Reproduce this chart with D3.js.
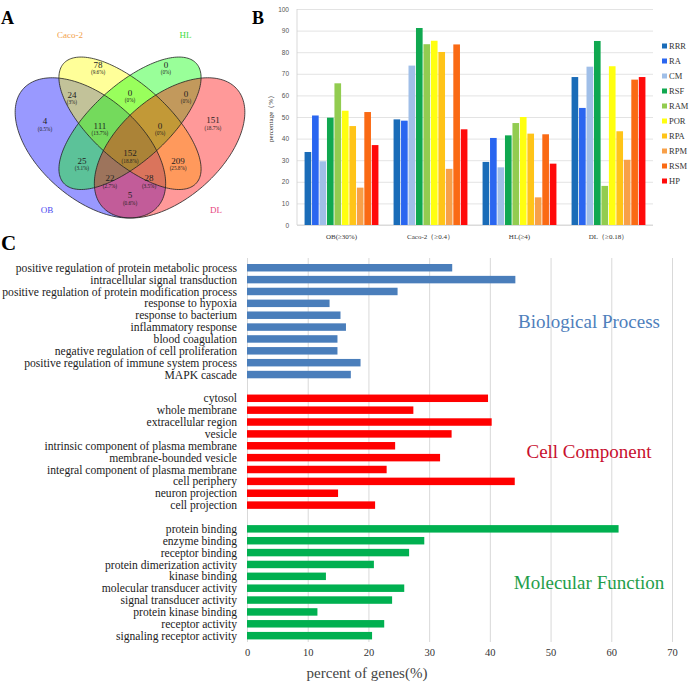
<!DOCTYPE html>
<html><head><meta charset="utf-8">
<script src="https://cdn.jsdelivr.net/npm/d3@7"></script>
<style>body{margin:0;background:#fff}svg{display:block}</style>
</head><body>
<svg id="c" width="696" height="685"></svg>
<script>
// ---------- Panel A data ----------
const vennSets = ["OB", "Caco-2", "HL", "DL"];
const vennFill = ["#0000ff", "#ffff00", "#00ff00", "#ff0000"];
const vennNameColor = ["#4848f0", "#f2a24a", "#44dc44", "#e6457e"];
const vennRegions = ["Caco-2", "HL", "OB&Caco-2", "Caco-2&HL", "HL&DL", "OB", "OB&Caco-2&HL", "Caco-2&HL&DL", "DL", "OB&HL", "all", "Caco-2&DL", "OB&HL&DL", "OB&Caco-2&DL", "OB&DL"];
const vennCounts = [78, 0, 24, 0, 0, 4, 111, 0, 151, 25, 152, 209, 22, 28, 5];
const vennPercents = ["9.6%", "0%", "3%", "0%", "0%", "0.5%", "13.7%", "0%", "18.7%", "3.1%", "18.8%", "25.8%", "2.7%", "3.5%", "0.6%"];

// ---------- Panel B data ----------
const groups = ["OB(≥30%)", "Caco-2（≥0.4）", "HL(≥4)", "DL（≥0.18）"];
const series = ["RRR", "RA", "CM", "RSF", "RAM", "POR", "RPA", "RPM", "RSM", "HP"];
const seriesColors = ["#1a6cb8", "#2a66f0", "#a0bfe8", "#10a850", "#92cc50", "#ffff10", "#ffc418", "#f8a048", "#fa6a14", "#ff0a0a"];
const valRRR = [33.8, 48.9, 29.2, 68.5];
const valRA  = [50.7, 48.3, 40.3, 54.2];
const valCM  = [29.5, 73.8, 26.7, 73.3];
const valRSF = [49.7, 91.2, 41.5, 85.2];
const valRAM = [65.6, 83.7, 47.2, 18.1];
const valPOR = [52.9, 85.3, 50.0, 73.5];
const valRPA = [45.8, 80.1, 42.3, 43.4];
const valRPM = [17.3, 26.0, 12.8, 30.2];
const valRSM = [52.3, 83.6, 42.0, 67.3];
const valHP  = [37.0, 44.3, 28.4, 68.5];
const yTicksB = [0, 10, 20, 30, 40, 50, 60, 70, 80, 90, 100];

// ---------- Panel C data ----------
const bpTerms = ["positive regulation of protein metabolic process", "intracellular signal transduction", "positive regulation of protein modification process", "response to hypoxia", "response to bacterium", "inflammatory response", "blood coagulation", "negative regulation of cell proliferation", "positive regulation of immune system process", "MAPK cascade"];
const bpValues = [33.8, 44.2, 24.8, 13.6, 15.4, 16.3, 14.9, 14.9, 18.7, 17.1];
const ccTerms = ["cytosol", "whole membrane", "extracellular region", "vesicle", "intrinsic component of plasma membrane", "membrane-bounded vesicle", "integral component of plasma membrane", "cell periphery", "neuron projection", "cell projection"];
const ccValues = [39.7, 27.4, 40.3, 33.7, 24.4, 31.8, 23.0, 44.1, 15.0, 21.1];
const mfTerms = ["protein binding", "enzyme binding", "receptor binding", "protein dimerization activity", "kinase binding", "molecular transducer activity", "signal transducer activity", "protein kinase binding", "receptor activity", "signaling receptor activity"];
const mfValues = [61.2, 29.2, 26.7, 20.9, 13.0, 25.9, 23.9, 11.6, 22.6, 20.6];
const ontologyNames = ["Biological Process", "Cell Component", "Molecular Function"];
const xTicksC = [0, 10, 20, 30, 40, 50, 60, 70];

const svg = d3.select("#c");
const serif = "'Liberation Serif','Times New Roman',serif";
const sans = "'Liberation Sans',Arial,sans-serif";

// panel letters
svg.append("text").attr("x", 1).attr("y", 24).text("A").attr("font-family", serif).attr("font-weight", "bold").attr("font-size", 18);
svg.append("text").attr("x", 252).attr("y", 24).text("B").attr("font-family", serif).attr("font-weight", "bold").attr("font-size", 18);
svg.append("text").attr("x", 1).attr("y", 250).text("C").attr("font-family", serif).attr("font-weight", "bold").attr("font-size", 21);

// ================= Panel A: Venn =================
const xV = d3.scaleLinear().domain([0, 1]).range([-2, 262]);
const yV = d3.scaleLinear().domain([0, 1]).range([263.5, 17.5]);
const ellLayout = [
  {cx: 0.35, cy: 0.47, a: 0.35, b: 0.20, rot: 135},
  {cx: 0.50, cy: 0.57, a: 0.35, b: 0.15, rot: 135},
  {cx: 0.50, cy: 0.57, a: 0.35, b: 0.15, rot: 45},
  {cx: 0.65, cy: 0.47, a: 0.35, b: 0.20, rot: 45}
];
function ellPts(e) {
  const r = e.rot * Math.PI / 180, pts = [];
  for (let i = 0; i < 180; i++) {
    const t = i / 180 * 2 * Math.PI;
    const lx = e.a * Math.cos(t), ly = e.b * Math.sin(t);
    pts.push([e.cx + lx * Math.cos(r) - ly * Math.sin(r), e.cy + lx * Math.sin(r) + ly * Math.cos(r)]);
  }
  return pts;
}
const ellLine = d3.line().x(d => xV(d[0])).y(d => yV(d[1])).curve(d3.curveLinearClosed);
const gA = svg.append("g");
gA.selectAll("path.fill").data(vennSets).join("path").attr("class", "fill")
  .attr("d", (d, i) => ellLine(ellPts(ellLayout[i])))
  .attr("fill", (d, i) => vennFill[i]).attr("fill-opacity", 0.4).attr("stroke", "none");
gA.selectAll("path.edge").data(vennSets).join("path").attr("class", "edge")
  .attr("d", (d, i) => ellLine(ellPts(ellLayout[i])))
  .attr("fill", "none").attr("stroke", "#222").attr("stroke-width", 0.8);
const regionPos = [[0.379, 0.799], [0.636, 0.799], [0.280, 0.677], [0.5, 0.685], [0.712, 0.681], [0.178, 0.571], [0.386, 0.551], [0.614, 0.551], [0.814, 0.575], [0.318, 0.409], [0.5, 0.441], [0.682, 0.409], [0.424, 0.339], [0.572, 0.339], [0.5, 0.270]];
const rl = gA.selectAll("g.rl").data(vennRegions).join("g").attr("class", "rl")
  .attr("transform", (d, i) => `translate(${xV(regionPos[i][0])},${yV(regionPos[i][1])})`);
rl.append("text").text((d, i) => vennCounts[i]).attr("text-anchor", "middle").attr("y", 1)
  .attr("font-family", serif).attr("font-size", 9).attr("fill", "#222");
rl.append("text").text((d, i) => "(" + vennPercents[i] + ")").attr("text-anchor", "middle").attr("y", 7.5)
  .attr("font-family", serif).attr("font-size", 5.2).attr("fill", "#222");
const namePos = [[0.186, 0.205], [0.273, 0.915], [0.71, 0.915], [0.826, 0.205]];
gA.selectAll("text.nm").data(vennSets).join("text").attr("class", "nm")
  .attr("x", (d, i) => xV(namePos[i][0])).attr("y", (d, i) => yV(namePos[i][1]))
  .attr("text-anchor", "middle").attr("font-family", serif).attr("font-size", 9)
  .attr("fill", (d, i) => vennNameColor[i]).text(d => d);

// ================= Panel B: grouped bars =================
const seriesVals = [valRRR, valRA, valCM, valRSF, valRAM, valPOR, valRPA, valRPM, valRSM, valHP];
const yB = d3.scaleLinear().domain([0, 100]).range([225, 9]);
const x0 = d3.scaleBand().domain(groups).range([297, 653]).paddingInner(0.17).paddingOuter(0.085);
const x1 = d3.scaleBand().domain(series).range([0, x0.bandwidth()]).paddingInner(0.11);
const gB = svg.append("g");
gB.append("g").attr("transform", "translate(297,0)")
  .call(d3.axisLeft(yB).tickValues(yTicksB).tickSize(-356).tickFormat(d3.format("d")))
  .call(g => g.select(".domain").remove())
  .call(g => g.selectAll(".tick line").attr("stroke", "#dcdcdc").attr("stroke-width", 0.8))
  .call(g => g.selectAll(".tick text").attr("x", -8).attr("font-family", sans).attr("font-size", 6.5).attr("fill", "#555"));
gB.append("line").attr("x1", 297).attr("x2", 297).attr("y1", yB(100)).attr("y2", yB(0)).attr("stroke", "#cfcfcf").attr("stroke-width", 0.8);
gB.append("line").attr("x1", 297).attr("x2", 653).attr("y1", yB(0)).attr("y2", yB(0)).attr("stroke", "#cfcfcf").attr("stroke-width", 0.8);
const grp = gB.selectAll("g.grp").data(groups).join("g").attr("class", "grp")
  .attr("transform", d => `translate(${x0(d)},0)`);
grp.selectAll("rect").data((g, gi) => series.map((s, si) => ({s, si, v: seriesVals[si][gi]}))).join("rect")
  .attr("x", d => x1(d.s)).attr("width", x1.bandwidth())
  .attr("y", d => yB(d.v)).attr("height", d => yB(0) - yB(d.v))
  .attr("fill", d => seriesColors[d.si]);
gB.selectAll("text.cat").data(groups).join("text").attr("class", "cat")
  .attr("x", d => x0(d) + x0.bandwidth() / 2).attr("y", 239).attr("text-anchor", "middle")
  .attr("font-family", serif).attr("font-size", 7).attr("fill", "#333").text(d => d);
gB.append("text").attr("transform", "translate(273,117) rotate(-90)").attr("text-anchor", "middle")
  .attr("font-family", serif).attr("font-size", 7).attr("fill", "#333").text("percentage（%）");
const lg = gB.selectAll("g.lg").data(series).join("g").attr("class", "lg")
  .attr("transform", (d, i) => `translate(662,${46 + i * 15})`);
lg.append("rect").attr("x", 0).attr("y", -2.5).attr("width", 5).attr("height", 5).attr("fill", (d, i) => seriesColors[i]);
lg.append("text").attr("x", 7).attr("y", 3).attr("font-family", serif).attr("font-size", 8.5).attr("fill", "#333").text(d => d);

// ================= Panel C: GO bars =================
const ontTerms = [bpTerms, ccTerms, mfTerms];
const ontValues = [bpValues, ccValues, mfValues];
const ontColors = ["#4a7ebb", "#ff0000", "#00b050"];
const ontTextColors = ["#4f7fbc", "#c8102e", "#1f9e4a"];
const rows = [];
ontTerms.forEach((terms, oi) => {
  if (oi > 0) rows.push({key: "gap" + oi, gap: true});
  terms.forEach((t, ti) => rows.push({key: t, term: t, v: ontValues[oi][ti], oi}));
});
const xC = d3.scaleLinear().domain([0, 70]).range([247, 672]);
const yC = d3.scaleBand().domain(rows.map(r => r.key)).range([261.8, 641.6]).paddingInner(0.37).paddingOuter(0.185);
const gC = svg.append("g");
gC.append("g").attr("transform", "translate(0,642)")
  .call(d3.axisBottom(xC).tickValues(xTicksC).tickSize(-384).tickFormat(d3.format("d")))
  .call(g => g.select(".domain").remove())
  .call(g => g.selectAll(".tick line").attr("stroke", "#d9d9d9").attr("stroke-width", 1))
  .call(g => g.selectAll(".tick text").attr("y", 7).attr("font-family", serif).attr("font-size", 10.5).attr("fill", "#333"));
const dataRows = rows.filter(r => !r.gap);
gC.selectAll("rect").data(dataRows).join("rect")
  .attr("x", xC(0)).attr("y", d => yC(d.key)).attr("height", yC.bandwidth())
  .attr("width", d => xC(d.v) - xC(0)).attr("fill", d => ontColors[d.oi]);
gC.selectAll("text.term").data(dataRows).join("text").attr("class", "term")
  .attr("x", 237).attr("y", d => yC(d.key) + yC.bandwidth() / 2).attr("dy", "0.35em")
  .attr("text-anchor", "end").attr("font-family", serif).attr("font-size", 11.6).attr("fill", "#222")
  .text(d => d.term);
gC.selectAll("text.ont").data(ontologyNames).join("text").attr("class", "ont")
  .attr("x", 589).attr("y", (d, i) => {
    const keys = ontTerms[i];
    return (yC(keys[4]) + yC(keys[5]) + yC.bandwidth()) / 2;
  }).attr("dy", "0.35em").attr("text-anchor", "middle")
  .attr("font-family", serif).attr("font-size", 19).attr("fill", (d, i) => ontTextColors[i]).text(d => d);
gC.append("text").attr("x", 367).attr("y", 678).attr("text-anchor", "middle")
  .attr("font-family", serif).attr("font-size", 15).attr("fill", "#444").text("percent of genes(%)");
</script>
</body></html>
